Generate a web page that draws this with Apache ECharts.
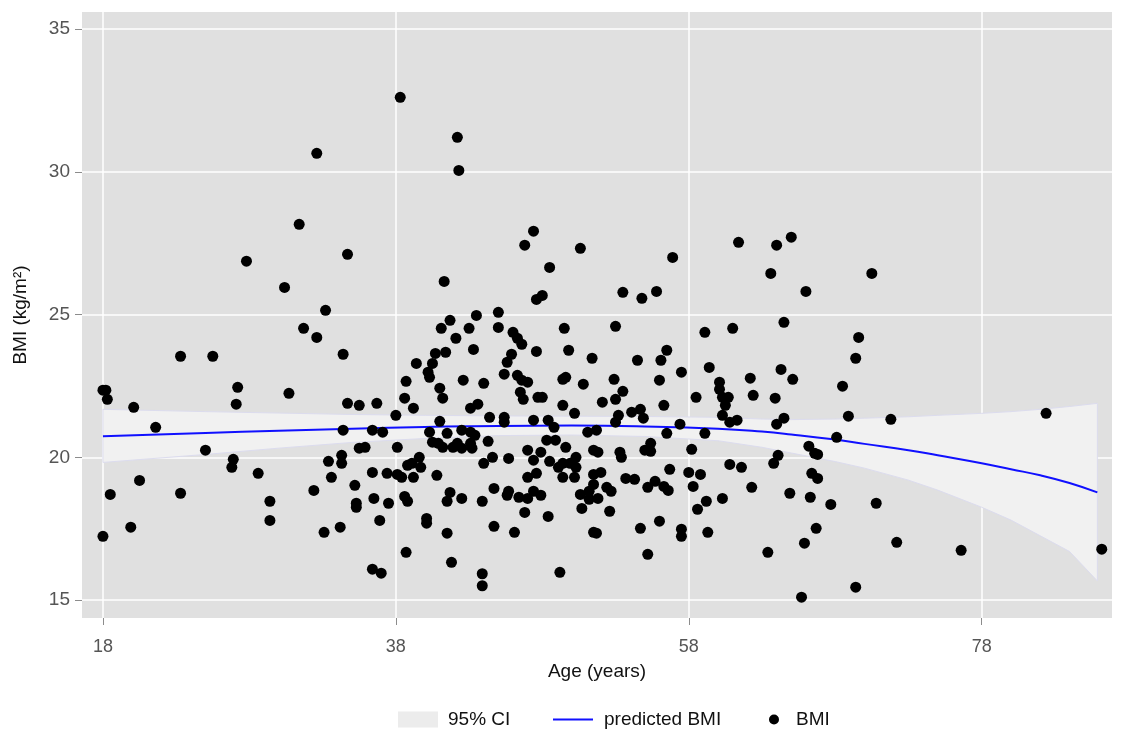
<!DOCTYPE html>
<html>
<head>
<meta charset="utf-8">
<script src="https://cdn.jsdelivr.net/npm/echarts@6/dist/echarts.min.js"></script>
<style>
html,body{margin:0;padding:0;background:#fff;}
#chart{width:1132px;height:733px;}
</style>
</head>
<body>
<div id="chart"></div>
<script>
// ---- data ----
var xTicks = [18, 38, 58, 78];
var yTicks = [15, 20, 25, 30, 35];

var ciAges  = [18, 25, 30, 35, 40, 45, 50, 55, 60, 63, 65, 68, 70, 73, 75, 78, 80, 82, 84, 85.9];
var fitBmi  = [20.74, 20.85, 20.93, 21.0, 21.06, 21.1, 21.11, 21.08, 21.0, 20.9, 20.8, 20.62, 20.47, 20.25, 20.07, 19.79, 19.58, 19.37, 19.1, 18.77];
var ciUpper = [21.68, 21.6, 21.55, 21.5, 21.47, 21.45, 21.44, 21.43, 21.4, 21.34, 21.32, 21.34, 21.37, 21.42, 21.47, 21.54, 21.6, 21.68, 21.78, 21.89];
var ciLower = [19.82, 20.1, 20.32, 20.52, 20.66, 20.76, 20.78, 20.73, 20.58, 20.35, 20.15, 19.85, 19.62, 19.2, 18.85, 18.25, 17.8, 17.25, 16.7, 15.67];

var bmiPoints = [
  [18.0,22.35],[18.2,22.35],[18.3,22.03],[23.3,23.54],[25.5,23.54],[27.2,22.45],[27.1,21.86],[20.1,21.75],
  [21.6,21.05],[25.0,20.25],[26.9,19.93],[26.8,19.65],[28.6,19.44],[20.5,19.19],[18.5,18.7],[23.3,18.74],
  [29.4,18.46],[29.4,17.79],[19.9,17.55],[18.0,17.23],
  [38.3,32.61],[42.2,31.21],[42.3,30.05],[32.6,30.65],[31.4,28.16],[27.8,26.87],[34.7,27.11],[30.4,25.95],
  [47.4,27.92],[46.8,27.43],[48.5,26.65],[41.3,26.16],
  [50.6,27.32],[56.9,27.0],[53.5,25.78],[54.8,25.57],[55.8,25.81],[61.4,27.53],[64.0,27.43],[65.0,27.71],
  [63.6,26.44],[70.5,26.44],[66.0,25.81],
  [31.7,24.52],[32.6,24.2],[33.2,25.15],[34.4,23.61],[30.7,22.24],[34.7,21.89],[35.5,21.82],[36.7,21.89],
  [38.0,21.47],[38.6,22.07],[39.2,21.72],[38.7,22.66],[39.4,23.29],[40.2,22.98],[40.3,22.8],[40.5,23.29],
  [40.7,23.64],[41.4,23.68],[41.1,24.52],[41.7,24.8],[42.1,24.17],[41.0,22.42],[41.2,22.07],[41.0,21.26],
  [47.6,25.53],[48.0,25.67],[43.5,24.97],[45.0,25.08],[43.0,24.52],[45.0,24.55],[46.0,24.38],[46.3,24.17],
  [46.6,23.96],[49.5,24.52],[53.0,24.59],[43.3,23.78],[45.9,23.61],[45.6,23.33],[47.6,23.71],[49.8,23.75],
  [51.4,23.47],[42.6,22.7],[44.0,22.59],[45.4,22.91],[46.3,22.87],[46.6,22.7],[47.0,22.63],[46.5,22.28],
  [46.7,22.03],[47.7,22.1],[48.0,22.1],[49.4,22.73],[49.6,22.8],[50.8,22.56],[52.9,22.73],[53.5,22.31],
  [53.0,22.03],[52.1,21.93],[49.4,21.82],[50.2,21.54],[43.1,21.72],[43.6,21.86],[44.4,21.4],[45.4,21.4],
  [45.4,21.23],[47.4,21.3],[48.4,21.3],[53.2,21.47],[53.0,21.23],
  [64.5,24.73],[59.1,24.38],[61.0,24.52],[54.5,23.4],[56.1,23.4],[56.5,23.75],[57.5,22.98],[56.0,22.7],
  [56.3,21.82],[59.4,23.15],[60.1,22.63],[60.1,22.38],[58.5,22.1],[60.3,22.1],[60.7,22.1],[60.5,21.82],
  [60.3,21.47],[60.8,21.23],[61.3,21.3],[62.2,22.77],[62.4,22.17],[63.9,22.07],[64.3,23.08],[65.1,22.73],
  [64.5,21.37],[54.7,21.68],[54.9,21.37],[54.1,21.58],[57.4,21.16],[64.0,21.16],
  [34.4,20.95],[36.4,20.95],[37.1,20.88],[40.3,20.88],[41.5,20.84],[40.5,20.53],[40.9,20.49],[41.2,20.35],
  [41.9,20.35],[35.5,20.32],[35.9,20.35],[38.1,20.35],[34.3,20.07],[34.3,19.79],[33.4,19.86],[33.6,19.3],
  [32.4,18.84],[35.2,19.02],[36.4,19.47],[37.4,19.44],[38.1,19.4],[38.4,19.3],[38.8,19.72],[39.1,19.79],
  [39.6,20.0],[39.7,19.65],[39.2,19.3],[40.8,19.37],[35.3,18.39],[35.3,18.25],[36.5,18.56],[37.5,18.39],
  [38.6,18.63],[38.8,18.46],[41.7,18.77],[41.5,18.46],[36.9,17.79],[40.1,17.86],[40.1,17.69],[33.1,17.37],
  [34.2,17.55],[41.5,17.34],[38.7,16.67],[41.8,16.32],
  [42.5,20.95],[43.1,20.88],[43.4,20.77],[42.2,20.49],[43.1,20.49],[42.5,20.32],[43.2,20.32],[44.3,20.56],
  [48.8,21.05],[51.1,20.88],[51.7,20.95],[48.3,20.6],[48.9,20.6],[49.6,20.35],[47.0,20.25],[47.9,20.18],
  [44.6,20.0],[45.7,19.96],[44.0,19.79],[47.4,19.9],[48.5,19.86],[49.1,19.65],[49.4,19.79],[49.9,19.79],
  [50.3,20.0],[50.3,19.65],[51.5,20.25],[51.8,20.18],[53.3,20.18],[53.4,20.0],[47.6,19.44],[47.0,19.3],
  [49.4,19.3],[50.2,19.3],[51.5,19.4],[52.0,19.47],[53.7,19.26],[51.5,19.05],[52.4,18.95],[52.7,18.81],
  [44.7,18.91],[45.7,18.81],[45.6,18.67],[46.4,18.6],[47.0,18.56],[47.4,18.81],[47.9,18.67],[42.5,18.56],
  [43.9,18.46],[50.6,18.7],[51.2,18.81],[51.2,18.53],[51.8,18.56],[46.8,18.07],[48.4,17.93],[50.7,18.21],
  [52.6,18.11],[44.7,17.58],[46.1,17.37],[51.5,17.37],[51.7,17.34],
  [56.5,20.84],[59.1,20.84],[55.4,20.49],[55.0,20.25],[55.4,20.21],[58.2,20.28],[64.1,20.07],[63.8,19.79],
  [56.7,19.58],[58.0,19.47],[58.8,19.4],[60.8,19.75],[61.6,19.65],[54.3,19.23],[55.7,19.16],[55.2,18.95],
  [56.3,18.98],[56.6,18.84],[58.3,18.98],[62.3,18.95],[64.9,18.74],[60.3,18.56],[59.2,18.46],[58.6,18.18],
  [56.0,17.76],[54.7,17.51],[57.5,17.48],[57.5,17.23],[59.3,17.37],[55.2,16.6],[63.4,16.67],[65.9,16.99],
  [69.6,24.2],[69.4,23.47],[68.5,22.49],[68.9,21.44],[71.8,21.33],[82.4,21.54],[68.1,20.7],[66.2,20.39],
  [66.6,20.14],[66.8,20.1],[66.4,19.44],[66.8,19.26],[66.3,18.6],[67.7,18.35],[70.8,18.39],[66.7,17.51],
  [72.2,17.02],[76.6,16.74],[86.2,16.78],[69.4,15.45],[65.7,15.1],
  [36.4,16.08],[37.0,15.94],[43.9,15.92],[43.9,15.5],[49.2,15.97]
];

// ---- build series data ----
var bandData = ciAges.map(function (a, i) { return [a, ciLower[i], ciUpper[i]]; });
var fitData = ciAges.map(function (a, i) { return [a, fitBmi[i]]; });

var FONT = '"Liberation Sans", Arial, Helvetica, sans-serif';
var chart = echarts.init(document.getElementById('chart'));
chart.setOption({
  animation: false,
  backgroundColor: '#ffffff',
  textStyle: { fontFamily: FONT },
  grid: {
    left: 82, right: 20, top: 12, bottom: 115,
    outerBoundsMode: 'none', containLabel: false,
    show: true, backgroundColor: '#e0e0e0', borderWidth: 0
  },
  xAxis: {
    type: 'value', min: 16.57, max: 86.9,
    name: 'Age (years)', nameLocation: 'middle', nameGap: 44,
    nameTextStyle: { fontSize: 19, color: '#111', fontFamily: FONT },
    axisLine: { show: false },
    axisTick: { show: true, length: 7, customValues: xTicks, lineStyle: { color: '#8c8c8c', width: 1 } },
    axisLabel: { customValues: xTicks, fontSize: 18, color: '#555', margin: 20, fontFamily: FONT },
    splitLine: { show: true, lineStyle: { color: '#ffffff', width: 1.5 } }
  },
  yAxis: {
    type: 'value', min: 14.37, max: 35.6,
    name: 'BMI (kg/m\u00b2)', nameLocation: 'middle', nameGap: 52,
    nameTextStyle: { fontSize: 19, color: '#111', fontFamily: FONT },
    axisLine: { show: false },
    axisTick: { show: true, length: 7, customValues: yTicks, lineStyle: { color: '#8c8c8c', width: 1 } },
    axisLabel: { customValues: yTicks, fontSize: 19, color: '#555', margin: 12, fontFamily: FONT },
    splitLine: { show: true, lineStyle: { color: '#ffffff', width: 1.5 } }
  },
  legend: [
    {
      data: [{ name: '95% CI', icon: 'rect', itemStyle: { color: '#ececec', borderWidth: 0 } }],
      left: 393, top: 705, itemWidth: 40, itemHeight: 16,
      textStyle: { fontSize: 19, color: '#111', fontFamily: FONT, padding: [0, 0, 0, 5] }
    },
    {
      data: [{ name: 'predicted BMI', icon: 'rect', itemStyle: { color: '#1010ff' } }],
      left: 548, top: 705, itemWidth: 40, itemHeight: 2,
      textStyle: { fontSize: 19, color: '#111', fontFamily: FONT, padding: [0, 0, 0, 6] }
    },
    {
      data: [{ name: 'BMI', icon: 'circle', itemStyle: { color: '#000' } }],
      left: 764, top: 705, itemWidth: 10, itemHeight: 10,
      textStyle: { fontSize: 19, color: '#111', fontFamily: FONT, padding: [0, 0, 0, 12] }
    }
  ],
  series: [
    {
      name: '95% CI', type: 'custom', data: bandData, silent: true, z: 1,
      itemStyle: { color: '#ececec' },
      encode: { x: 0, y: [1, 2] },
      renderItem: function (params, api) {
        if (params.dataIndex !== 0) { return null; }
        var upper = [], lower = [];
        for (var i = 0; i < ciAges.length; i++) {
          upper.push(api.coord([ciAges[i], ciUpper[i]]));
          lower.push(api.coord([ciAges[i], ciLower[i]]));
        }
        return {
          type: 'polygon',
          shape: { points: upper.concat(lower.reverse()) },
          style: { fill: '#f1f1f1', stroke: '#dcdcee', lineWidth: 1 }
        };
      }
    },
    {
      name: 'predicted BMI', type: 'line', data: fitData,
      symbol: 'none', smooth: true,
      lineStyle: { color: '#1010ff', width: 2 },
      itemStyle: { color: '#1010ff' }, z: 3
    },
    {
      name: 'BMI', type: 'scatter', data: bmiPoints,
      symbolSize: 11, itemStyle: { color: '#000000', opacity: 1 }, z: 4
    }
  ]
});
</script>
</body>
</html>
